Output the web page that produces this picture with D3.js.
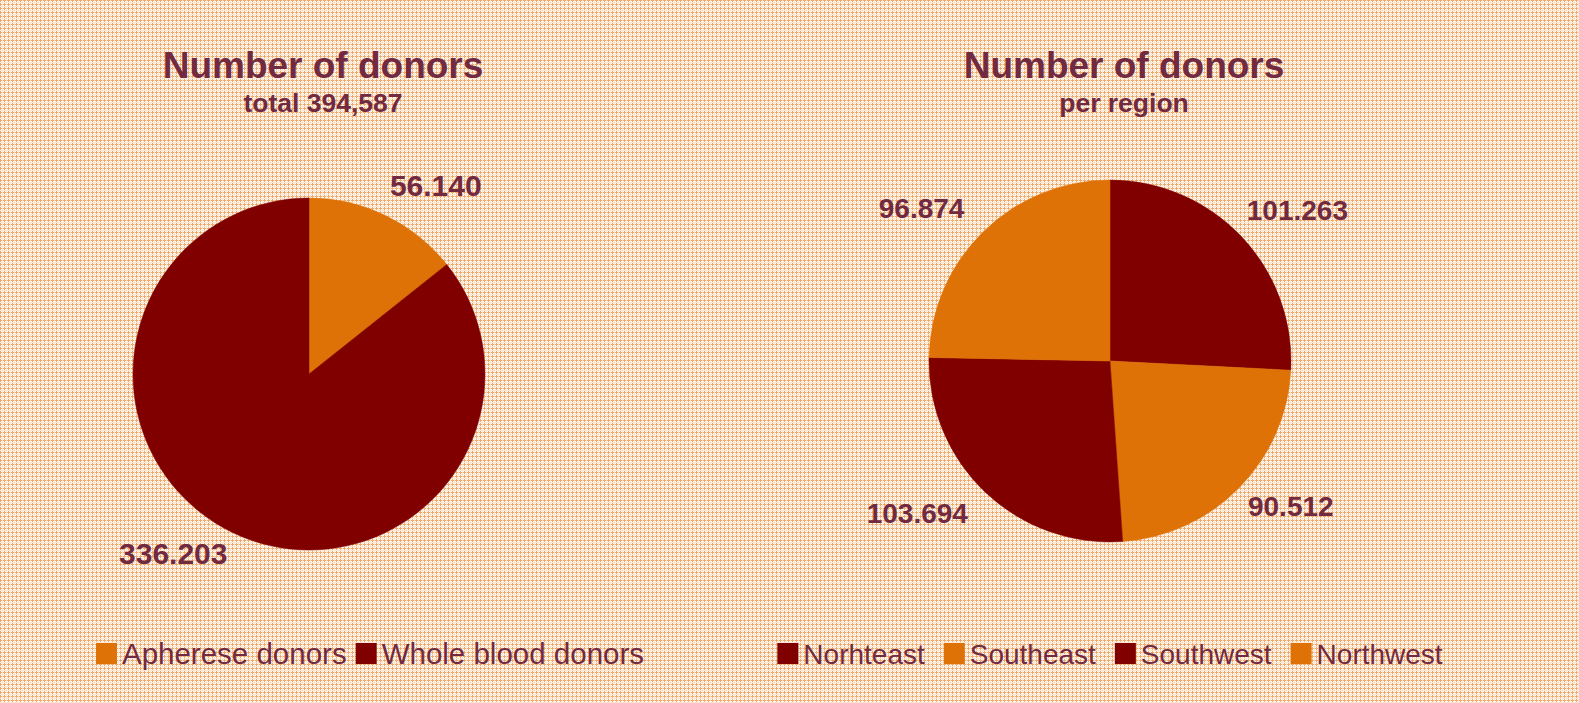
<!DOCTYPE html>
<html lang="en">
  <head>
    <meta charset="UTF-8" />
    <title>Number of donors</title>
    <style>
      html, body { margin: 0; padding: 0; background: #fff; }
      svg { display: block; font-family: "Liberation Sans", Arial, sans-serif; }
    </style>
  </head>
  <body>
    <svg id="chart"></svg>
    <script src="https://d3js.org/d3.v7.min.js"></script>
    <script>
      // data
      const donorTypes = ["Apherese donors", "Whole blood donors"];
      const donorCounts = [56140, 336203];
      const donorLabels = ["56.140", "336.203"];

      const regions = ["Norhteast", "Southeast", "Southwest", "Northwest"];
      const regionCounts = [101263, 90512, 103694, 96874];
      const regionLabels = ["101.263", "90.512", "103.694", "96.874"];

      const dark = "#800000";
      const orange = "#de7207";
      const textColor = "#722a40";

      const width = 1579, height = 703;

      const svg = d3.select("#chart").attr("width", width).attr("height", height);

      // checked background
      const defs = svg.append("defs");
      const pat = defs.append("pattern")
        .attr("id", "grid").attr("patternUnits", "userSpaceOnUse")
        .attr("width", 4).attr("height", 4);
      pat.append("rect").attr("width", 4).attr("height", 4).attr("fill", "#ffffff");
      pat.append("rect").attr("x", 0).attr("y", 0).attr("width", 1).attr("height", 4).attr("fill", "#f1a967");
      pat.append("rect").attr("x", 0).attr("y", 0).attr("width", 4).attr("height", 1).attr("fill", "#f1a967");
      pat.append("rect").attr("x", 2).attr("y", 0).attr("width", 1).attr("height", 4).attr("fill", "#fde6d2");
      pat.append("rect").attr("x", 0).attr("y", 2).attr("width", 4).attr("height", 1).attr("fill", "#fde6d2");
      svg.append("rect").attr("width", width).attr("height", height).attr("fill", "url(#grid)");

      const pie = d3.pie().sort(null).value(d => d);

      function drawPie(cfg) {
        const g = svg.append("g").attr("transform", `translate(${cfg.cx},${cfg.cy})`);
        const arc = d3.arc().innerRadius(0).outerRadius(cfg.r);
        const labelArc = d3.arc().innerRadius(cfg.labelR).outerRadius(cfg.labelR);
        const arcs = pie(cfg.values);

        g.selectAll("path.slice")
          .data(arcs)
          .join("path")
          .attr("class", "slice")
          .attr("d", arc)
          .attr("fill", (d, i) => cfg.colors[i])
          .attr("stroke", (d, i) => cfg.colors[i])
          .attr("stroke-width", 0.5);

        g.selectAll("text.val")
          .data(arcs)
          .join("text")
          .attr("class", "val")
          .attr("x", (d, i) => labelArc.centroid(d)[0] + cfg.nudge[i][0])
          .attr("y", (d, i) => labelArc.centroid(d)[1] + cfg.nudge[i][1])
          .attr("dy", "0.36em")
          .attr("text-anchor", "middle")
          .attr("font-size", cfg.labelSize)
          .attr("font-weight", "bold")
          .attr("fill", textColor)
          .text((d, i) => cfg.labels[i]);

        // titles
        svg.append("text")
          .attr("x", cfg.titleX).attr("y", 78)
          .attr("text-anchor", "middle")
          .attr("font-size", 37).attr("font-weight", "bold")
          .attr("fill", textColor)
          .text("Number of donors");
        svg.append("text")
          .attr("x", cfg.titleX).attr("y", 112)
          .attr("text-anchor", "middle")
          .attr("font-size", 26.5).attr("font-weight", "bold")
          .attr("fill", textColor)
          .text(cfg.subtitle);

        // legend
        const lg = svg.append("g");
        let x = 0;
        cfg.names.forEach((name, i) => {
          const item = lg.append("g").attr("transform", `translate(${x},0)`);
          item.append("rect")
            .attr("x", 0).attr("y", 643)
            .attr("width", 21).attr("height", 21)
            .attr("fill", cfg.colors[i]);
          const t = item.append("text")
            .attr("x", 26).attr("y", 664)
            .attr("font-size", cfg.legendSize)
            .attr("fill", textColor)
            .text(name);
          x += 26 + t.node().getComputedTextLength() + cfg.legendGap;
        });
        const total = x - cfg.legendGap;
        lg.attr("transform", `translate(${cfg.legendCx - total / 2},0)`);
      }

      drawPie({
        cx: 309, cy: 374, r: 176, labelR: 225,
        values: donorCounts, labels: donorLabels, names: donorTypes,
        colors: [orange, dark],
        nudge: [[29, 14], [-38, -23]],
        labelSize: 30, legendSize: 29.5,
        titleX: 323, subtitle: "total 394,587",
        legendCx: 370, legendGap: 9
      });

      drawPie({
        cx: 1110, cy: 361, r: 181, labelR: 242,
        values: regionCounts, labels: regionLabels, names: regions,
        colors: [dark, orange, dark, orange],
        nudge: [[12, 16], [8, -25], [-26, -24], [-19, 20]],
        labelSize: 28, legendSize: 28,
        titleX: 1124, subtitle: "per region",
        legendCx: 1110, legendGap: 19
      });
    </script>
  </body>
</html>
